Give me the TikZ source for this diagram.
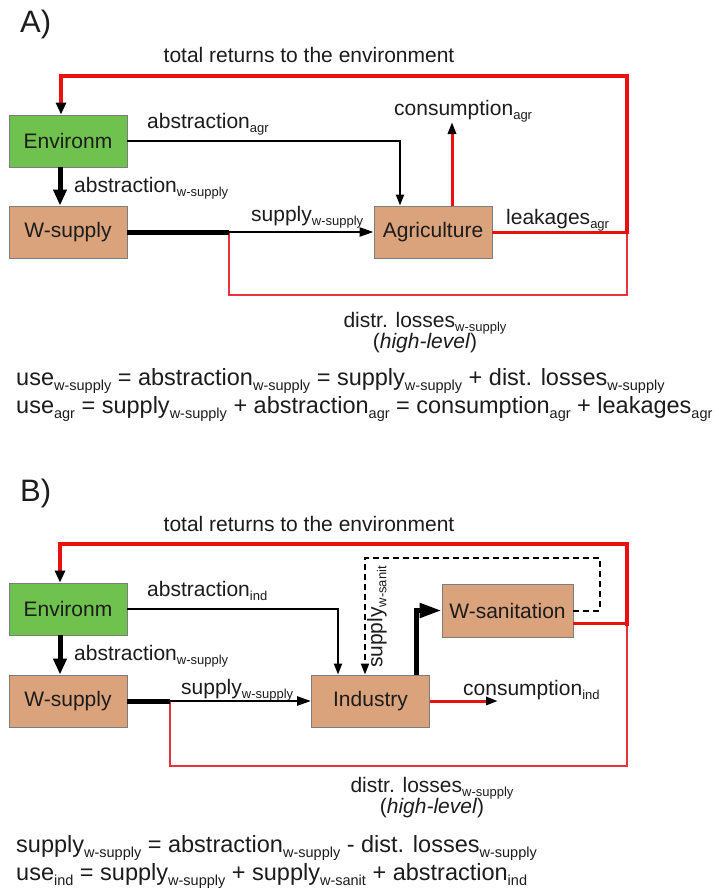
\documentclass[tikz,border=0pt]{standalone}
\usepackage{fontspec}
\setmainfont{Liberation Sans}
\usetikzlibrary{arrows.meta}
\definecolor{envgreen}{RGB}{112,194,78}
\definecolor{boxtan}{RGB}{218,163,124}
\definecolor{boxline}{RGB}{125,125,125}
\definecolor{txt}{RGB}{28,28,28}
\definecolor{rline}{RGB}{235,16,16}
\definecolor{rthin}{RGB}{232,50,62}
\newcommand{\lsub}[1]{\raisebox{-4pt}{\fontsize{13}{13}\selectfont #1}}
\newcommand{\esub}[1]{\raisebox{-5pt}{\fontsize{14.5}{14.5}\selectfont #1}}
\begin{document}
\begin{tikzpicture}[x=1pt,y=-1pt,
  font=\fontsize{21}{25}\selectfont, text=txt,
  box/.style={draw=boxline, line width=0.9pt, minimum width=118pt, minimum height=52pt, inner sep=0pt},
  envbox/.style={box, fill=envgreen},
  tanbox/.style={box, fill=boxtan},
  lbl/.style={inner sep=0pt, anchor=base west},
  clbl/.style={inner sep=0pt, anchor=base},
  eqn/.style={inner sep=0pt, anchor=base west, font=\fontsize{23.5}{28}\selectfont},
  head/.style={font=\fontsize{31}{31}\selectfont, inner sep=0pt, anchor=base west},
  flow/.style={draw=black, line width=2pt, -{Triangle[length=11pt,width=8pt]}},
  supflow/.style={draw=black, line width=2.5pt, -{Triangle[length=14pt,width=9pt]}},
  bigflow/.style={draw=black, line width=5pt, -{Triangle[length=16pt,width=13pt]}},
  hugeflow/.style={draw=black, line width=5pt, -{Triangle[length=22pt,width=14pt]}},
  thickline/.style={draw=black, line width=5pt},
  ret/.style={draw=rline, line width=4pt, line cap=rect, -{Triangle[length=12pt,width=10pt,color=black]}},
  leak/.style={draw=rline, line width=3pt},
  leakarrow/.style={draw=rline, line width=3pt, -{Triangle[length=12pt,width=8pt,color=black]}},
  loss/.style={draw=rthin, line width=1.3pt},
  dashflow/.style={draw=black, line width=2pt, dash pattern=on 6pt off 4pt, -{Triangle[length=11pt,width=8pt]}}
]
\useasboundingbox (0,0) rectangle (718,891);

% ================= Part A =================
\node[head] (tA) at (20,33) {A)};
\node[clbl] (titleA) at (309,63) {total returns to the environment};
\node[envbox] (envA) at (68,141) {Environm};
\node[tanbox] (wsA) at (68,232) {W-supply};
\node[tanbox] (agA) at (433,232) {Agriculture};

\node[lbl] (labA1) at (147,128) {abstraction\lsub{agr}};
\node[lbl] (labA2) at (74,192) {abstraction\lsub{w-supply}};
\node[lbl] (labA3) at (394,115) {consumption\lsub{agr}};
\node[lbl] (labA4) at (251,221) {supply\lsub{w-supply}};
\node[lbl] (labA5) at (506,224) {leakages\lsub{agr}};
\node[clbl] (labA6) at (425,327) {distr. losses\lsub{w-supply}};
\node[clbl] (labA7) at (425,348) {(\textit{high-level})};
\node[eqn] (eqA1) at (16,385) {use\esub{w-supply} = abstraction\esub{w-supply} = supply\esub{w-supply} + dist. losses\esub{w-supply}};
\node[eqn] (eqA2) at (16,413) {use\esub{agr} = supply\esub{w-supply} + abstraction\esub{agr} = consumption\esub{agr} + leakages\esub{agr}};

\coordinate (jA) at (229,232);
\coordinate (rA) at (627,232);
\coordinate (trA) at (627,76);
\coordinate (tlA) at (61,76);
\coordinate (blA) at (229,295);
\coordinate (brA) at (627,295);
\coordinate (cA) at (452,122);

\draw[loss] (jA) -- (blA) -- (brA) -- (rA);
\draw[bigflow] ([xshift=-8pt]envA.south) -- ([xshift=-8pt]wsA.north);
\draw[flow] (envA.east) -| ([xshift=-33pt]agA.north);
\draw[thickline] (wsA.east) -- (jA);
\draw[supflow] (jA) -- (agA.west);
\draw[leak] (agA.east) -- (rA);
\draw[ret] (rA) -- (trA) -- (tlA) -- (tlA |- envA.north);
\draw[leakarrow] ([xshift=19pt]agA.north) -- (cA);

% ================= Part B =================
\node[head] (tB) at (20,501) {B)};
\node[clbl] (titleB) at (309,531) {total returns to the environment};
\node[envbox] (envB) at (68,609) {Environm};
\node[tanbox] (wsB) at (68,701) {W-supply};
\node[tanbox] (indB) at (370.5,701) {Industry};
\node[tanbox, minimum width=131pt, minimum height=53pt] (wsanB) at (507.5,610.5) {W-sanitation};

\node[lbl] (labB1) at (147,596) {abstraction\lsub{ind}};
\node[lbl] (labB2) at (74,660) {abstraction\lsub{w-supply}};
\node[lbl] (labB3) at (181,694) {supply\lsub{w-supply}};
\node[lbl] (labB4) at (463,695) {consumption\lsub{ind}};
\node[inner sep=0pt, rotate=90] (labB5) at (377,617) {supply\lsub{w-sanit}};
\node[clbl] (labB6) at (432,792) {distr. losses\lsub{w-supply}};
\node[clbl] (labB7) at (432,813) {(\textit{high-level})};
\node[eqn] (eqB1) at (16,852) {supply\esub{w-supply} = abstraction\esub{w-supply} - dist. losses\esub{w-supply}};
\node[eqn] (eqB2) at (16,880) {use\esub{ind} = supply\esub{w-supply} + supply\esub{w-sanit} + abstraction\esub{ind}};

\coordinate (jB) at (170,701);
\coordinate (rB) at (627,623.5);
\coordinate (trB) at (627,544);
\coordinate (tlB) at (60,544);
\coordinate (blB) at (170,766);
\coordinate (brB) at (627,766);
\coordinate (cB) at (498,701);
\coordinate (d1) at (600,610.5);
\coordinate (d2) at (600,558);
\coordinate (d3) at (365,558);

\draw[loss] (jB) -- (blB) -- (brB) -- (rB);
\draw[bigflow] ([xshift=-8pt]envB.south) -- ([xshift=-8pt]wsB.north);
\draw[flow] (envB.east) -| ([xshift=-32.5pt]indB.north);
\draw[thickline] (wsB.east) -- (jB);
\draw[supflow] (jB) -- (indB.west);
\draw[leak] ([yshift=-13pt]wsanB.east) -- (rB);
\draw[ret] (rB) -- (trB) -- (tlB) -- (tlB |- envB.north);
\draw[dashflow] (wsanB.east) -- (d1) -- (d2) -- (d3) -- (d3 |- indB.north);
\draw[hugeflow] ([xshift=45.5pt]indB.north) |- (wsanB.west);
\draw[leakarrow] (indB.east) -- (cB);
\end{tikzpicture}
\end{document}
